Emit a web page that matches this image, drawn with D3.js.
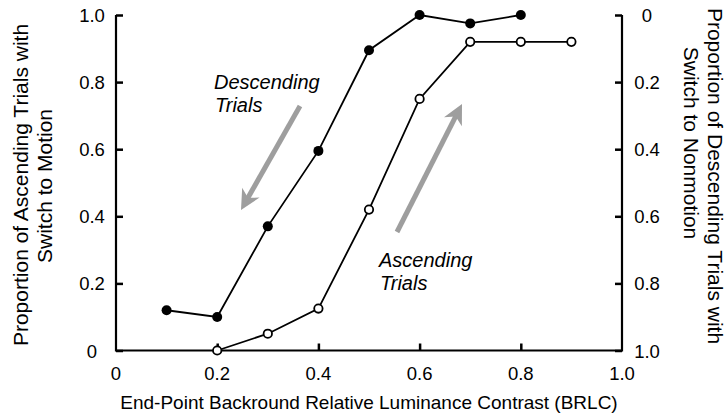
<!DOCTYPE html>
<html><head><meta charset="utf-8">
<script src="https://cdn.jsdelivr.net/npm/d3@7"></script>
<style>body{margin:0;background:#fff}svg{display:block}text{font-family:"Liberation Sans",Arial,sans-serif;fill:#000}</style>
</head><body><svg id="c" width="726" height="417"></svg>
<script>
const descX = [0.1,0.2,0.3,0.4,0.5,0.6,0.7,0.8];
const descY = [0.12,0.10,0.37,0.595,0.895,1.0,0.975,1.0];
const ascX = [0.2,0.3,0.4,0.5,0.6,0.7,0.8,0.9];
const ascY = [0,0.05,0.125,0.42,0.75,0.92,0.92,0.92];
const xTicks = [0,0.2,0.4,0.6,0.8,1.0];
const xTickLabels = ["0","0.2","0.4","0.6","0.8","1.0"];
const yTicks = [0,0.2,0.4,0.6,0.8,1.0];
const yLeftLabels = ["0","0.2","0.4","0.6","0.8","1.0"];
const yRightLabels = ["1.0","0.8","0.6","0.4","0.2","0"];

const svg = d3.select("#c");
const x = d3.scaleLinear().domain([0,1]).range([116,622]);
const y = d3.scaleLinear().domain([0,1]).range([350.5,15]);
const fs = 18.5;

// axes
const g = svg.append("g");
const axisL = d3.axisRight(y).tickValues(yTicks).tickSize(7).tickFormat("");
const axisR = d3.axisLeft(y).tickValues(yTicks).tickSize(7).tickFormat("");
const axisB = d3.axisTop(x).tickValues(xTicks.slice(1,-1)).tickSize(7).tickFormat("");
g.append("g").attr("transform",`translate(${x(0)},0)`).call(axisL);
g.append("g").attr("transform",`translate(${x(1)},0)`).call(axisR);
g.append("g").attr("transform",`translate(0,${y(0)})`).call(axisB);
g.selectAll(".domain").remove();
g.selectAll(".tick line").attr("stroke","#000").attr("stroke-width",2.5);
svg.append("path").attr("d",`M${x(0)},${y(1)}V${y(0)}H${x(1)}V${y(1)}`)
  .attr("fill","none").attr("stroke","#000").attr("stroke-width",2.2);

// tick labels
svg.selectAll(".xl").data(xTicks).enter().append("text")
  .attr("x",d=>x(d)).attr("y",380).attr("text-anchor","middle").attr("font-size",fs)
  .text((d,i)=>xTickLabels[i]);
svg.selectAll(".yl").data(yTicks).enter().append("text")
  .attr("x",92).attr("y",d=>y(d)+7).attr("text-anchor","middle").attr("font-size",fs)
  .text((d,i)=>yLeftLabels[i]);
svg.selectAll(".yr").data(yTicks).enter().append("text")
  .attr("x",647).attr("y",d=>y(d)+7).attr("text-anchor","middle").attr("font-size",fs)
  .text((d,i)=>yRightLabels[i]);

// titles
svg.append("text").attr("x",369).attr("y",409).attr("text-anchor","middle").attr("font-size",19)
  .text("End-Point Backround Relative Luminance Contrast (BRLC)");
const lt = svg.append("text").attr("transform","translate(0,0) rotate(-90)").attr("text-anchor","middle").attr("font-size",21);
lt.append("tspan").attr("x",-185).attr("y",28).text("Proportion of Ascending Trials with");
lt.append("tspan").attr("x",-186).attr("y",52).text("Switch to Motion");
const rt = svg.append("text").attr("transform","translate(726,0) rotate(90)").attr("text-anchor","middle").attr("font-size",21);
rt.append("tspan").attr("x",176).attr("y",18).text("Proportion of Descending Trials with");
rt.append("tspan").attr("x",143).attr("y",42).text("Switch to Nonmotion");

// arrows
function arrow(x1,y1,x2,y2){
  const a = Math.atan2(y2-y1,x2-x1), L = Math.hypot(x2-x1,y2-y1);
  const gg = svg.append("g").attr("transform",`translate(${x1},${y1}) rotate(${a*180/Math.PI})`);
  gg.append("line").attr("x1",0).attr("y1",0).attr("x2",L-10).attr("y2",0).attr("stroke","#9e9e9e").attr("stroke-width",5);
  gg.append("path").attr("d",`M${L},0 L${L-20},-10 L${L-14},0 L${L-20},10 Z`).attr("fill","#9e9e9e");
}
arrow(300,106,241,210);
arrow(397,232,462,104);

// annotation text
const d1 = svg.append("text").attr("font-size",20).attr("font-style","italic");
d1.append("tspan").attr("x",214).attr("y",89).text("Descending");
d1.append("tspan").attr("x",215).attr("y",112).text("Trials");
const a1 = svg.append("text").attr("font-size",20).attr("font-style","italic");
a1.append("tspan").attr("x",379).attr("y",267).text("Ascending");
a1.append("tspan").attr("x",380).attr("y",290).text("Trials");

// lines & markers
const line = d3.line().x(d=>x(d[0])).y(d=>y(d[1]));
const dd = descX.map((v,i)=>[v,descY[i]]);
const ad = ascX.map((v,i)=>[v,ascY[i]]);
svg.append("path").datum(dd).attr("d",line).attr("fill","none").attr("stroke","#000").attr("stroke-width",1.8);
svg.append("path").datum(ad).attr("d",line).attr("fill","none").attr("stroke","#000").attr("stroke-width",1.8);
svg.selectAll(".dp").data(dd).enter().append("circle").attr("cx",d=>x(d[0])).attr("cy",d=>y(d[1])).attr("r",5).attr("fill","#000");
svg.selectAll(".ap").data(ad).enter().append("circle").attr("cx",d=>x(d[0])).attr("cy",d=>y(d[1])).attr("r",4.2).attr("fill","#fff").attr("stroke","#000").attr("stroke-width",1.8);
</script></body></html>
